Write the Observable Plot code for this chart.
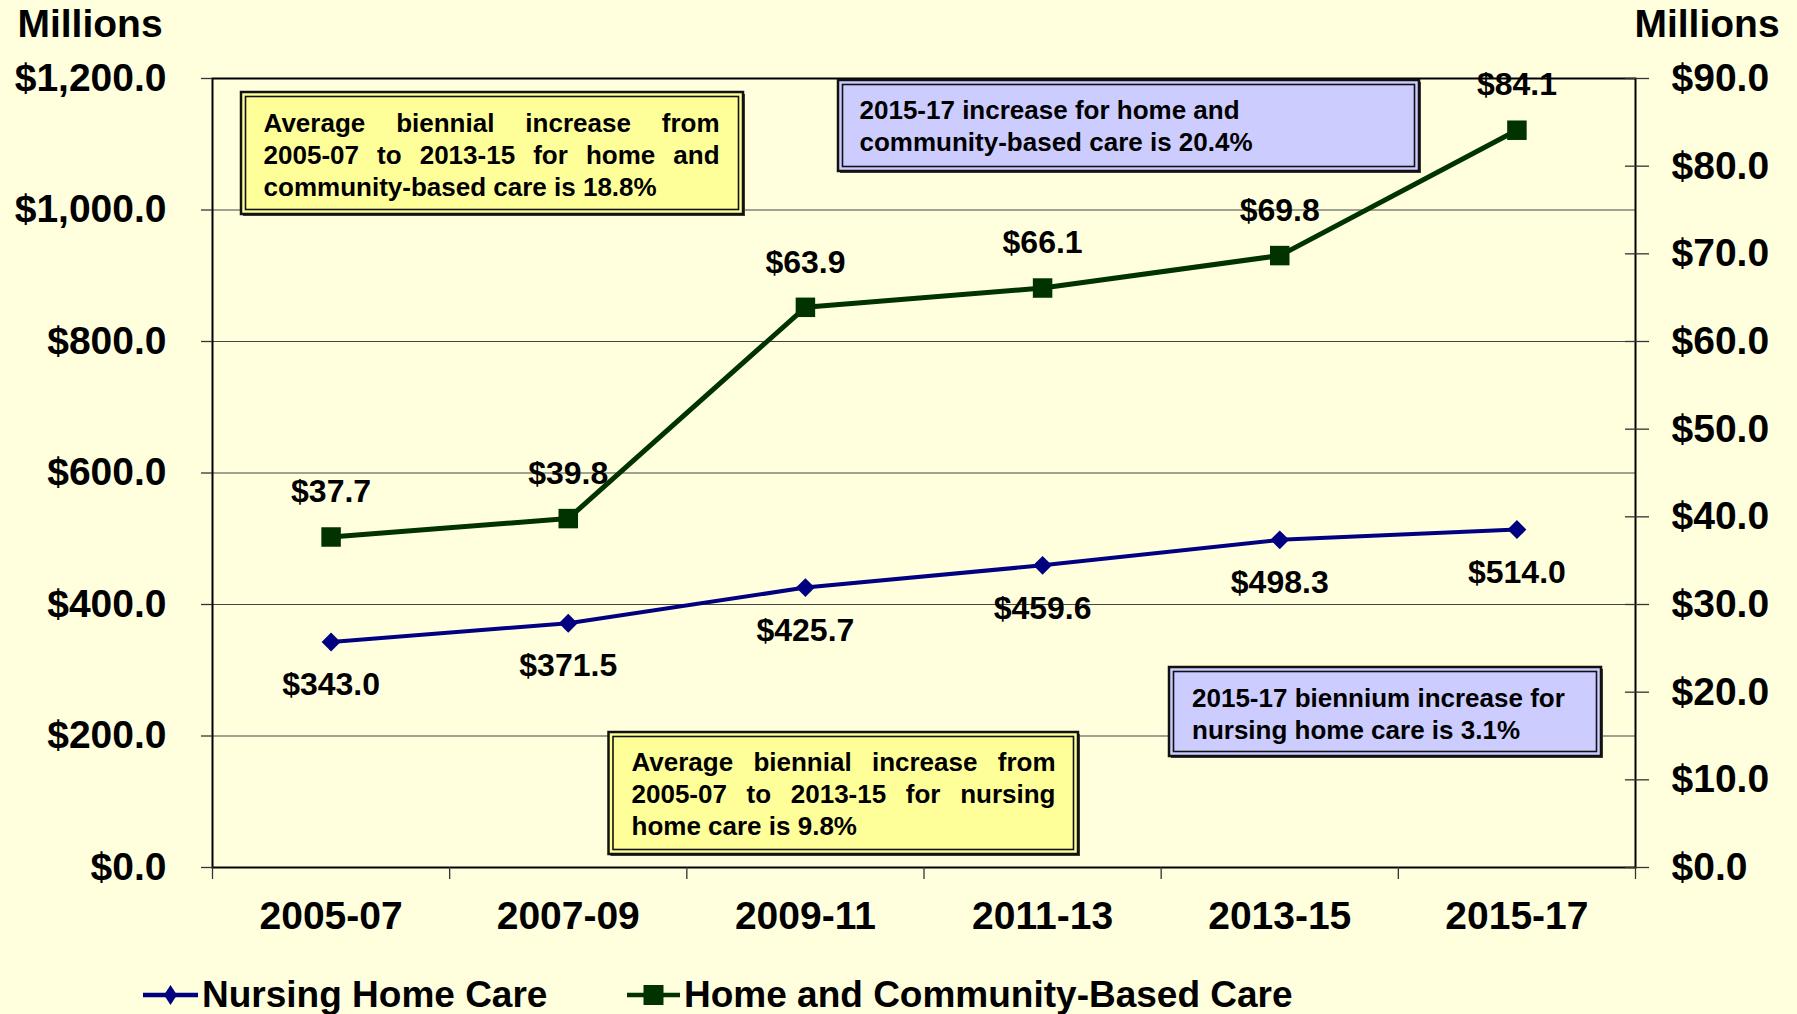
<!DOCTYPE html>
<html>
<head>
<meta charset="utf-8">
<script src="https://cdn.jsdelivr.net/npm/d3@7"></script>
<script src="https://cdn.jsdelivr.net/npm/@observablehq/plot@0.6"></script>
<style>
html, body { margin: 0; padding: 0; background: #FFFFDE; }
body { width: 1797px; height: 1014px; overflow: hidden; font-family: "Liberation Sans", Arial, sans-serif; font-weight: bold; color: #000; }
#chart svg { display: block; overflow: visible; }
#legend { position: relative; width: 1797px; height: 49px; }
#legend .item { position: absolute; top: 0; height: 60px; display: flex; align-items: center; font-size: 37px; white-space: nowrap; }
#legend svg { display: block; margin-right: 4px; }
</style>
</head>
<body>
<div id="chart"></div>
<div id="legend"></div>
<script>
// ---- data ----
const categories = ["2005-07", "2007-09", "2009-11", "2011-13", "2013-15", "2015-17"];
const nursingHomeCare = [343.0, 371.5, 425.7, 459.6, 498.3, 514.0];        // left axis, $ millions
const homeCommunityCare = [37.7, 39.8, 63.9, 66.1, 69.8, 84.1];            // right axis, $ millions
const leftTicks = [0, 200, 400, 600, 800, 1000, 1200];
const rightTicks = [0, 10, 20, 30, 40, 50, 60, 70, 80, 90];
const seriesNames = ["Nursing Home Care", "Home and Community-Based Care"];
const annotationTexts = [
  ["Average biennial increase from", "2005-07 to 2013-15 for home and", "community-based care is 18.8%"],
  ["2015-17 increase for home and", "community-based care is 20.4%"],
  ["2015-17 biennium increase for", "nursing home care is 3.1%"],
  ["Average biennial increase from", "2005-07 to 2013-15 for nursing", "home care is 9.8%"]
];

// ---- styles / layout ----
const FONT = '"Liberation Sans", Arial, sans-serif';
const NAVY = "#000080";
const DKGREEN = "#003300";
const YELLOW = "#FFFF99";
const LILAC = "#CCCCFF";
const W = 1797, H = 965;
const M = {top: 78, left: 212, right: 162, bottom: H - 867};
const k = 1200 / 90; // right-axis -> left-axis factor

const annotationLayout = [
  {box: [241, 92, 502, 122], textX: 263.6, textY: 122.6, justifyW: 456, fill: YELLOW, justify: [true, true, false]},
  {box: [838, 80, 581, 91], textX: 859.5, textY: 110, fill: LILAC, justify: [false, false]},
  {box: [1169, 667, 432, 89], textX: 1192, textY: 698, fill: LILAC, justify: [false, false]},
  {box: [608.5, 732, 469.5, 122], textX: 631.5, textY: 762, justifyW: 424, fill: YELLOW, justify: [true, true, false]}
];

const rows = categories.map((c, i) => ({
  i, cat: c,
  nh: nursingHomeCare[i],
  hcb: homeCommunityCare[i],
  hcbScaled: homeCommunityCare[i] * k
}));

const fmtLeft = d3.format("$,.1f");
const fmtRight = v => "$" + (Math.round(v / k * 10) / 10).toFixed(1);

const plot = Plot.plot({
  width: W, height: H,
  marginTop: M.top, marginLeft: M.left, marginRight: M.right, marginBottom: M.bottom,
  style: {background: "transparent", fontFamily: FONT, fontWeight: "bold", fontSize: "39px", color: "#000", overflow: "visible"},
  x: {type: "linear", domain: [-0.5, categories.length - 0.5], label: null},
  y: {domain: [0, 1200], label: null},
  marks: [
    Plot.gridY(leftTicks.slice(1, -1), {stroke: "#444", strokeOpacity: 1, strokeWidth: 1.2}),
    Plot.frame({stroke: "#000", strokeWidth: 2}),
    Plot.axisY({anchor: "left", label: null, ticks: leftTicks, tickFormat: fmtLeft, tickSize: 11, tickPadding: 35, fontSize: 39, fill: "#000", stroke: "#333", strokeWidth: 1.3}),
    Plot.axisY({anchor: "right", label: null, ticks: rightTicks.map(v => v * k), tickFormat: () => "", tickSize: 24, dx: -11, stroke: "#333", strokeWidth: 1.3}),
    Plot.axisY({anchor: "right", label: null, ticks: rightTicks.map(v => v * k), tickFormat: fmtRight, tickSize: 0, tickPadding: 36, fontSize: 39, fill: "#000"}),
    Plot.axisX({anchor: "bottom", label: null, ticks: d3.range(-0.5, categories.length, 1), tickFormat: () => "", tickSize: 12, stroke: "#333", strokeWidth: 1.3}),
    Plot.axisX({anchor: "bottom", label: null, ticks: d3.range(categories.length), tickFormat: i => categories[i], tickSize: 0, tickPadding: 34, fontSize: 39, fill: "#000"}),
    Plot.line(rows, {x: "i", y: "nh", stroke: NAVY, strokeWidth: 4}),
    Plot.dot(rows, {x: "i", y: "nh", symbol: "diamond2", r: 8.5, fill: NAVY, stroke: "none"}),
    Plot.line(rows, {x: "i", y: "hcbScaled", stroke: DKGREEN, strokeWidth: 5}),
    Plot.dot(rows, {x: "i", y: "hcbScaled", symbol: "square", r: 11, fill: DKGREEN, stroke: "none"}),
    Plot.text(rows, {x: "i", y: "hcbScaled", text: d => "$" + d.hcb.toFixed(1), dy: -45, fontSize: 32, fill: "#000"}),
    Plot.text(rows, {x: "i", y: "nh", text: d => "$" + d.nh.toFixed(1), dy: 43, fontSize: 32, fill: "#000"})
  ]
});
document.getElementById("chart").append(plot);

// ---- overlay: axis titles and annotation boxes ----
const svg = d3.select(plot);
[{x: 90, t: "Millions"}, {x: 1707, t: "Millions"}].forEach(m => {
  svg.append("text").attr("x", m.x).attr("y", 23).attr("dy", "0.36em")
    .attr("text-anchor", "middle").attr("font-size", 39).attr("font-weight", "bold")
    .attr("font-family", FONT).attr("fill", "#000").text(m.t);
});

const ann = svg.append("g").attr("font-family", FONT).attr("font-weight", "bold")
  .attr("font-size", 26).attr("fill", "#000").attr("text-anchor", "start");
annotationLayout.forEach((a, j) => {
  const [bx, by, bw, bh] = a.box;
  const g = ann.append("g");
  g.append("rect").attr("x", bx + 2).attr("y", by + 2).attr("width", bw).attr("height", bh).attr("fill", "#444");
  g.append("rect").attr("x", bx).attr("y", by).attr("width", bw).attr("height", bh)
    .attr("fill", a.fill).attr("stroke", "#111").attr("stroke-width", 2.5);
  g.append("rect").attr("x", bx + 4.5).attr("y", by + 4.5).attr("width", bw - 9).attr("height", bh - 9)
    .attr("fill", "none").attr("stroke", "#111").attr("stroke-width", 1.6);
  annotationTexts[j].forEach((line, li) => {
    const y = a.textY + li * 32;
    if (a.justify[li]) {
      const words = line.split(" ");
      const nodes = words.map(w => g.append("text").attr("y", y).attr("dy", "0.36em")
        .attr("text-anchor", "start").attr("fill", "#000").text(w));
      const widths = nodes.map(n => n.node().getComputedTextLength());
      const gap = (a.justifyW - d3.sum(widths)) / (words.length - 1);
      let x = a.textX;
      nodes.forEach((n, wi) => { n.attr("x", x); x += widths[wi] + gap; });
    } else {
      g.append("text").attr("x", a.textX).attr("y", y).attr("dy", "0.36em")
        .attr("text-anchor", "start").attr("fill", "#000").text(line);
    }
  });
});

// ---- legend (below the SVG) ----
const legend = d3.select("#legend");
const legendItems = [
  {name: seriesNames[0], color: NAVY, marker: "M0,-10L6.5,0L0,10L-6.5,0Z", left: 143, lineW: 55},
  {name: seriesNames[1], color: DKGREEN, marker: "M-10,-10H10V10H-10Z", left: 627, lineW: 53}
];
legendItems.forEach(it => {
  const item = legend.append("div").attr("class", "item").style("left", it.left + "px");
  const s = item.append("svg").attr("width", it.lineW).attr("height", 30);
  s.append("line").attr("x1", 0).attr("x2", it.lineW).attr("y1", 15).attr("y2", 15)
    .attr("stroke", it.color).attr("stroke-width", 4.5);
  s.append("path").attr("transform", `translate(${it.lineW / 2},15)`)
    .attr("d", it.marker).attr("fill", it.color);
  item.append("span").text(it.name);
});
</script>
</body>
</html>
